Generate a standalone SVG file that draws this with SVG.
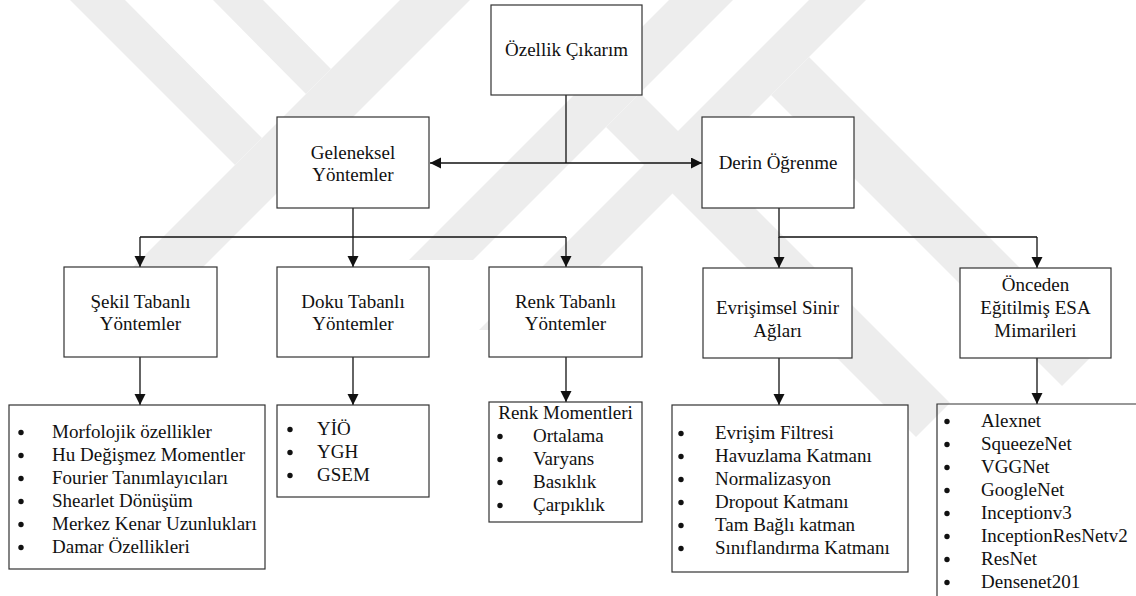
<svg xmlns="http://www.w3.org/2000/svg" width="1136" height="596" viewBox="0 0 1136 596">
  <style>
    .box { fill: #ffffff; stroke: #333333; stroke-width: 1.2; }
    .open { fill: none; stroke: #333333; stroke-width: 1.2; }
    .txt { font-family: "Liberation Serif", "Times New Roman", serif; font-size: 19px; fill: #111111; }
    .mid { text-anchor: middle; }
    .wire { fill: none; stroke: #111111; stroke-width: 1.3; }
    .dot { fill: #111111; }
    .mark { fill: #ededed; }
  </style>
  <defs>
    <marker id="head" markerUnits="userSpaceOnUse" markerWidth="12" markerHeight="12" refX="11" refY="5.5" orient="auto">
      <path d="M0,0 L11,5.5 L0,11 Z" fill="#111111"/>
    </marker>
  </defs>

  <rect width="1136" height="596" fill="#ffffff"/>

  <!-- faint background emblem made of diagonal bands -->
  <g id="emblem">
    <polygon class="mark" points="70,0 125,0 262,138 235,165"/>
    <polygon class="mark" points="213,0 263,0 331,69 306,94"/>
    <polygon class="mark" points="400,0 470,0 135,335 100,300"/>
    <polygon class="mark" points="669,0 733,0 473,260 409,260"/>
    <polygon class="mark" points="809,0 866,0 536,330 479,330"/>
    <polygon class="mark" points="771,95 809,57 1100,348 1062,386"/>
    <polygon class="mark" points="606,127 640,93 950,403 916,437"/>
  </g>

  <!-- connectors -->
  <g id="connectors">
    <path class="wire" d="M566,95 V163"/>
    <path class="wire" d="M566,163 H430" marker-end="url(#head)"/>
    <path class="wire" d="M566,163 H702" marker-end="url(#head)"/>

    <path class="wire" d="M353,208 V237"/>
    <path class="wire" d="M140,237 H566"/>
    <path class="wire" d="M140,237 V267" marker-end="url(#head)"/>
    <path class="wire" d="M353,237 V267" marker-end="url(#head)"/>
    <path class="wire" d="M566,237 V267" marker-end="url(#head)"/>

    <path class="wire" d="M779,208 V237 H1037"/>
    <path class="wire" d="M779,237 V268" marker-end="url(#head)"/>
    <path class="wire" d="M1037,237 V268" marker-end="url(#head)"/>

    <path class="wire" d="M140,357 V405" marker-end="url(#head)"/>
    <path class="wire" d="M353,357 V405" marker-end="url(#head)"/>
    <path class="wire" d="M566,357 V402" marker-end="url(#head)"/>
    <path class="wire" d="M779,358 V405" marker-end="url(#head)"/>
    <path class="wire" d="M1037,358 V404" marker-end="url(#head)"/>
  </g>

  <g id="ozellik-cikarim">
    <rect class="box" x="491" y="5" width="151" height="90"/>
    <text class="txt mid" x="566.5" y="56">Özellik Çıkarım</text>
  </g>

  <g id="geleneksel">
    <rect class="box" x="277" y="117" width="152" height="91"/>
    <text class="txt mid" x="353" y="159">Geleneksel</text>
    <text class="txt mid" x="353" y="181">Yöntemler</text>
  </g>

  <g id="derin-ogrenme">
    <rect class="box" x="702" y="117" width="152" height="91"/>
    <text class="txt mid" x="778" y="169">Derin Öğrenme</text>
  </g>

  <g id="sekil">
    <rect class="box" x="64" y="267" width="153" height="90"/>
    <text class="txt mid" x="140.5" y="308">Şekil Tabanlı</text>
    <text class="txt mid" x="140.5" y="330">Yöntemler</text>
  </g>

  <g id="doku">
    <rect class="box" x="277" y="267" width="152" height="90"/>
    <text class="txt mid" x="353" y="308">Doku Tabanlı</text>
    <text class="txt mid" x="353" y="330">Yöntemler</text>
  </g>

  <g id="renk">
    <rect class="box" x="489" y="267" width="153" height="90"/>
    <text class="txt mid" x="565.5" y="308">Renk Tabanlı</text>
    <text class="txt mid" x="565.5" y="330">Yöntemler</text>
  </g>

  <g id="evrisimsel">
    <rect class="box" x="703" y="268" width="149" height="90"/>
    <text class="txt mid" x="777.5" y="314">Evrişimsel Sinir</text>
    <text class="txt mid" x="777.5" y="337">Ağları</text>
  </g>

  <g id="onceden">
    <rect class="box" x="960" y="268" width="151" height="90"/>
    <text class="txt mid" x="1035.5" y="291">Önceden</text>
    <text class="txt mid" x="1035.5" y="314">Eğitilmiş ESA</text>
    <text class="txt mid" x="1035.5" y="337">Mimarileri</text>
  </g>

  <g id="sekil-liste">
    <rect class="box" x="9" y="405" width="256" height="164"/>
    <circle class="dot" cx="21" cy="432.5" r="2.7"/>
    <circle class="dot" cx="21" cy="455.5" r="2.7"/>
    <circle class="dot" cx="21" cy="478.5" r="2.7"/>
    <circle class="dot" cx="21" cy="501.5" r="2.7"/>
    <circle class="dot" cx="21" cy="524.5" r="2.7"/>
    <circle class="dot" cx="21" cy="547.5" r="2.7"/>
    <text class="txt" x="52" y="438">Morfolojik özellikler</text>
    <text class="txt" x="52" y="461">Hu Değişmez Momentler</text>
    <text class="txt" x="52" y="484">Fourier Tanımlayıcıları</text>
    <text class="txt" x="52" y="507">Shearlet Dönüşüm</text>
    <text class="txt" x="52" y="530">Merkez Kenar Uzunlukları</text>
    <text class="txt" x="52" y="553">Damar Özellikleri</text>
  </g>

  <g id="doku-liste">
    <rect class="box" x="277" y="405" width="152" height="92"/>
    <circle class="dot" cx="290" cy="429.5" r="2.7"/>
    <circle class="dot" cx="290" cy="452.5" r="2.7"/>
    <circle class="dot" cx="290" cy="475.5" r="2.7"/>
    <text class="txt" x="317" y="435">YİÖ</text>
    <text class="txt" x="317" y="458">YGH</text>
    <text class="txt" x="317" y="481">GSEM</text>
  </g>

  <g id="renk-liste">
    <rect class="box" x="489" y="402" width="153" height="120"/>
    <text class="txt mid" x="565.5" y="419">Renk Momentleri</text>
    <circle class="dot" cx="500" cy="436.5" r="2.7"/>
    <circle class="dot" cx="500" cy="459.5" r="2.7"/>
    <circle class="dot" cx="500" cy="482.5" r="2.7"/>
    <circle class="dot" cx="500" cy="505.5" r="2.7"/>
    <text class="txt" x="533" y="442">Ortalama</text>
    <text class="txt" x="533" y="465">Varyans</text>
    <text class="txt" x="533" y="488">Basıklık</text>
    <text class="txt" x="533" y="511">Çarpıklık</text>
  </g>

  <g id="evrisimsel-liste">
    <rect class="box" x="672" y="405" width="236" height="167"/>
    <circle class="dot" cx="681" cy="433.5" r="2.7"/>
    <circle class="dot" cx="681" cy="456.5" r="2.7"/>
    <circle class="dot" cx="681" cy="479.5" r="2.7"/>
    <circle class="dot" cx="681" cy="502.5" r="2.7"/>
    <circle class="dot" cx="681" cy="525.5" r="2.7"/>
    <circle class="dot" cx="681" cy="548.5" r="2.7"/>
    <text class="txt" x="715" y="439">Evrişim Filtresi</text>
    <text class="txt" x="715" y="462">Havuzlama Katmanı</text>
    <text class="txt" x="715" y="485">Normalizasyon</text>
    <text class="txt" x="715" y="508">Dropout Katmanı</text>
    <text class="txt" x="715" y="531">Tam Bağlı katman</text>
    <text class="txt" x="715" y="554">Sınıflandırma Katmanı</text>
  </g>

  <g id="onceden-liste">
    <path class="open" d="M937,600 V404 H1140"/>
    <circle class="dot" cx="947" cy="421.5" r="2.7"/>
    <circle class="dot" cx="947" cy="444.5" r="2.7"/>
    <circle class="dot" cx="947" cy="467.5" r="2.7"/>
    <circle class="dot" cx="947" cy="490.5" r="2.7"/>
    <circle class="dot" cx="947" cy="513.5" r="2.7"/>
    <circle class="dot" cx="947" cy="536.5" r="2.7"/>
    <circle class="dot" cx="947" cy="559.5" r="2.7"/>
    <circle class="dot" cx="947" cy="582.5" r="2.7"/>
    <text class="txt" x="981" y="427">Alexnet</text>
    <text class="txt" x="981" y="450">SqueezeNet</text>
    <text class="txt" x="981" y="473">VGGNet</text>
    <text class="txt" x="981" y="496">GoogleNet</text>
    <text class="txt" x="981" y="519">Inceptionv3</text>
    <text class="txt" x="981" y="542">InceptionResNetv2</text>
    <text class="txt" x="981" y="565">ResNet</text>
    <text class="txt" x="981" y="588">Densenet201</text>
  </g>
</svg>
